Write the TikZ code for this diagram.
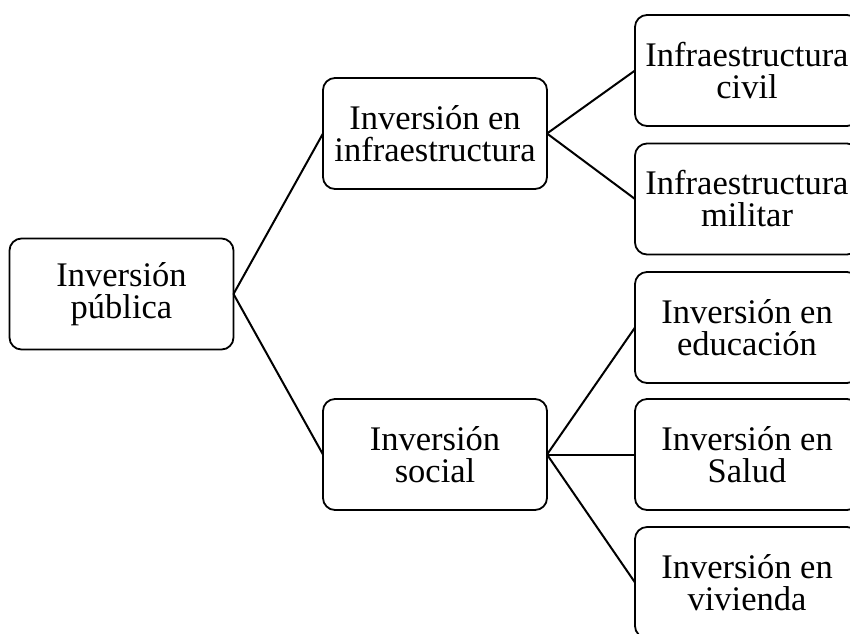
\documentclass[tikz,border=0pt]{standalone}
\usepackage{fontspec}
\setmainfont{Liberation Serif}

\begin{document}
\begin{tikzpicture}[x=1pt,y=-1pt,
    box/.style={draw,line width=1.8pt,rounded corners=12pt,align=center,
        minimum width=224pt,minimum height=111pt,inner sep=0pt,outer sep=0pt,
        font=\fontsize{34.5}{32}\selectfont},
    link/.style={line width=2pt}]
        \useasboundingbox (0,0) rectangle (850,633);
        \clip (0,0) rectangle (850,633);
        % Root node
        \node[box] (root) at (121.5,294) {Inversión\\pública};
        % Second level
        \node[box] (infra) at (435,133.5) {Inversión en\\infraestructura};
        \node[box] (social) at (435,454.5) {Inversión\\social};
        % Leaves
        \node[box] (civil) at (747,70.5) {Infraestructura\\civil};
        \node[box] (militar) at (747,199) {Infraestructura\\militar};
        \node[box] (educ) at (747,327.5) {Inversión en\\educación};
        \node[box] (salud) at (747,454.5) {Inversión en\\Salud};
        \node[box] (vivienda) at (747,582.5) {Inversión en\\vivienda};
        % Connectors
        \draw[link] (root.east) -- (infra.west);
        \draw[link] (root.east) -- (social.west);
        \draw[link] (infra.east) -- (civil.west);
        \draw[link] (infra.east) -- (militar.west);
        \draw[link] (social.east) -- (educ.west);
        \draw[link] (social.east) -- (salud.west);
        \draw[link] (social.east) -- (vivienda.west);
    \end{tikzpicture}
\end{document}
